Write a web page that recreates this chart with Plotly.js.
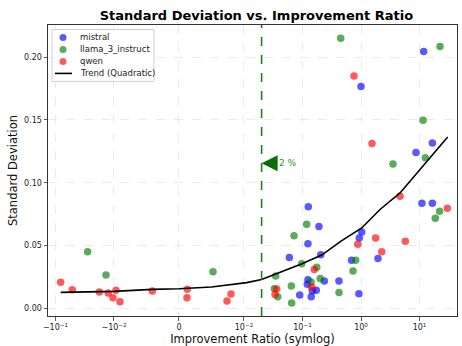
<!DOCTYPE html>
<html>
<head>
<meta charset="utf-8">
<script src="https://cdn.plot.ly/plotly-3.0.1.min.js"></script>
<style>html,body{margin:0;padding:0;background:#fff;}#chart{width:462px;height:346px;}</style>
</head>
<body>
<div id="chart"></div>
<script>
// ---- data (improvement ratio, standard deviation) ----
const mistralX = [0.1256, 0.191, 0.124, 0.0596, 0.205, 1.03, 0.935, 0.69, 0.124, 0.121, 0.147, 0.172, 0.141, 0.0896, 0.236, 0.42, 0.92, 1.95, 11.0, 16.6, 8.7, 16.6, 11.8, 1.0];
const mistralY = [0.0808, 0.0652, 0.0514, 0.0405, 0.0426, 0.0607, 0.0561, 0.0383, 0.0227, 0.0191, 0.0140, 0.0145, 0.0092, 0.0106, 0.0217, 0.0217, 0.0116, 0.0397, 0.0837, 0.0837, 0.124, 0.1316, 0.2045, 0.1767];

const llamaX = [-0.0282, -0.0137, 0.00523, 0.1178, 0.0716, 0.0969, 0.175, 0.0348, 0.201, 0.14, 0.0644, 0.033, 0.0377, 0.0653, 0.421, 0.81, 0.73, 3.52, 12.57, 22.1, 18.6, 11.5, 0.45, 22.4];
const llamaY = [0.045, 0.0265, 0.0291, 0.067, 0.0577, 0.0355, 0.0328, 0.0257, 0.0238, 0.0209, 0.0177, 0.0156, 0.0092, 0.0042, 0.0127, 0.0382, 0.0297, 0.115, 0.120, 0.0773, 0.0718, 0.1497, 0.2151, 0.2085];

const qwenX = [-0.0815, -0.0516, -0.0178, -0.01253, -0.00969, -0.0104, -0.00908, -0.0041, 0.00128, 0.00123, 0.0080, 0.00739, 0.159, 0.0362, 0.0339, 0.1436, 0.879, 1.78, 2.26, 5.72, 4.65, 29.9, 1.54, 0.76];
const qwenY = [0.0207, 0.0148, 0.0130, 0.0122, 0.0145, 0.0084, 0.0052, 0.0138, 0.0151, 0.0084, 0.0114, 0.0058, 0.0310, 0.0153, 0.0111, 0.0169, 0.0511, 0.0561, 0.0450, 0.0535, 0.0893, 0.0797, 0.1312, 0.1849];

const trendX = [-0.0815, -0.01, -0.0041, 0, 0.005, 0.0094, 0.0111, 0.02, 0.0339, 0.098, 0.213, 0.455, 1.03, 2.11, 4.65, 10.2, 22.4, 30.3];
const trendY = [0.0127, 0.0135, 0.0151, 0.0156, 0.0170, 0.0199, 0.0205, 0.0230, 0.0272, 0.0355, 0.0424, 0.0535, 0.0640, 0.0787, 0.0919, 0.1105, 0.1285, 0.1364];

const seriesNames = ['mistral', 'llama_3_instruct', 'qwen', 'Trend (Quadratic)'];
const seriesColors = ['rgba(0,0,255,0.65)', 'rgba(0,128,0,0.65)', 'rgba(255,0,0,0.65)', '#000000'];

const thresholdX = 0.02;
const thresholdLabel = '2 %';
const tickValues = [-0.1, -0.01, 0, 0.01, 0.1, 1, 10];
const tickLabels = ['\u221210<sup>\u22121</sup>', '\u221210<sup>\u22122</sup>', '0', '10<sup>\u22122</sup>', '10<sup>\u22121</sup>', '10<sup>0</sup>', '10<sup>1</sup>'];

// symlog transform (linthresh 0.01, linscale 1, base 10) like matplotlib
const LT = 0.01, LS = 1 / (1 - 1 / 10);
function symlog(v) {
  const a = Math.abs(v);
  if (a <= LT) return v / LT * LS;
  return Math.sign(v) * (LS + Math.log10(a / LT));
}
const T = arr => arr.map(symlog);

const FONT = 'DejaVu Sans, sans-serif';
const mk = c => ({color: c, size: 7.5, line: {width: 0}});

const traces = [
  {x: T(mistralX), y: mistralY, mode: 'markers', type: 'scatter', name: seriesNames[0], marker: mk(seriesColors[0])},
  {x: T(llamaX), y: llamaY, mode: 'markers', type: 'scatter', name: seriesNames[1], marker: mk(seriesColors[1])},
  {x: T(qwenX), y: qwenY, mode: 'markers', type: 'scatter', name: seriesNames[2], marker: mk(seriesColors[2])},
  {x: T(trendX), y: trendY, mode: 'lines', type: 'scatter', name: seriesNames[3], line: {color: seriesColors[3], width: 1.6}}
];

// plot area in pixels, for a compact matplotlib-style legend
const PL = 48, PW = 409, PB = 316, PH = 291.5;
const px = v => (v - PL) / PW;
const py = v => (PB - v) / PH;

const shapes = [{
  type: 'line', xref: 'x', yref: 'paper',
  x0: symlog(thresholdX), x1: symlog(thresholdX), y0: 0, y1: 1,
  line: {color: '#138a13', width: 1.6, dash: 'dash'}
}, {
  type: 'rect', xref: 'paper', yref: 'paper',
  x0: px(52), x1: px(154), y0: py(81), y1: py(29),
  fillcolor: 'rgba(255,255,255,0.85)', line: {color: '#d0d0d0', width: 1}
}];
const annotations = [{
  x: symlog(thresholdX), y: 0.1155, xref: 'x', yref: 'y',
  text: thresholdLabel, showarrow: true, ax: 26, ay: 0,
  arrowhead: 2, arrowsize: 1.6, arrowwidth: 2, arrowcolor: '#0a6e0a',
  font: {size: 9, family: FONT, color: '#1f9a1f'}
}];
seriesNames.forEach((name, i) => {
  const yy = 37 + i * 12;
  if (i < 3) {
    shapes.push({
      type: 'circle', xref: 'paper', yref: 'paper',
      xsizemode: 'pixel', ysizemode: 'pixel',
      xanchor: px(63), yanchor: py(yy),
      x0: -3.5, x1: 3.5, y0: -3.5, y1: 3.5,
      fillcolor: seriesColors[i], line: {width: 0}
    });
  } else {
    shapes.push({
      type: 'line', xref: 'paper', yref: 'paper',
      x0: px(55), x1: px(72), y0: py(yy), y1: py(yy),
      line: {color: seriesColors[i], width: 1.6}
    });
  }
  annotations.push({
    x: px(78), y: py(yy), xref: 'paper', yref: 'paper',
    xanchor: 'left', yanchor: 'middle', showarrow: false,
    text: name, font: {size: 8.5, family: FONT, color: '#222'}
  });
});

const layout = {
  width: 462, height: 346,
  margin: {l: 48, r: 5, t: 24.5, b: 30, pad: 0},
  paper_bgcolor: '#fff', plot_bgcolor: '#fff',
  font: {family: FONT, size: 8, color: '#222'},
  showlegend: false,
  title: {text: '<b>Standard Deviation vs. Improvement Ratio</b>', font: {family: FONT, size: 13, color: '#000'}, x: 0.555, xanchor: 'center', y: 0.955, yanchor: 'middle'},
  xaxis: {
    range: [-2.239, 4.752],
    tickmode: 'array', tickvals: T(tickValues), ticktext: tickLabels,
    ticks: 'outside', ticklen: 3.5, tickwidth: 0.8, tickcolor: '#333',
    showline: true, mirror: true, linecolor: '#333', linewidth: 1,
    showgrid: true, gridcolor: '#e6e6e6', griddash: 'dash', gridwidth: 0.8,
    zeroline: false,
    tickfont: {size: 8, family: FONT, color: '#222'},
    title: {text: 'Improvement Ratio (symlog)', font: {size: 11.5, family: FONT, color: '#111'}, standoff: 3}
  },
  yaxis: {
    range: [-0.0061, 0.2256],
    tickmode: 'array', tickvals: [0, 0.05, 0.1, 0.15, 0.2], ticktext: ['0.00', '0.05', '0.10', '0.15', '0.20'],
    ticks: 'outside', ticklen: 3.5, tickwidth: 0.8, tickcolor: '#333',
    showline: true, mirror: true, linecolor: '#333', linewidth: 1,
    showgrid: true, gridcolor: '#e6e6e6', griddash: 'dash', gridwidth: 0.8,
    zeroline: false,
    tickfont: {size: 8, family: FONT, color: '#222'},
    title: {text: 'Standard Deviation', font: {size: 11.5, family: FONT, color: '#111'}, standoff: 4}
  },
  shapes: shapes,
  annotations: annotations
};

Plotly.newPlot('chart', traces, layout, {displayModeBar: false, staticPlot: true});
</script>
</body>
</html>
